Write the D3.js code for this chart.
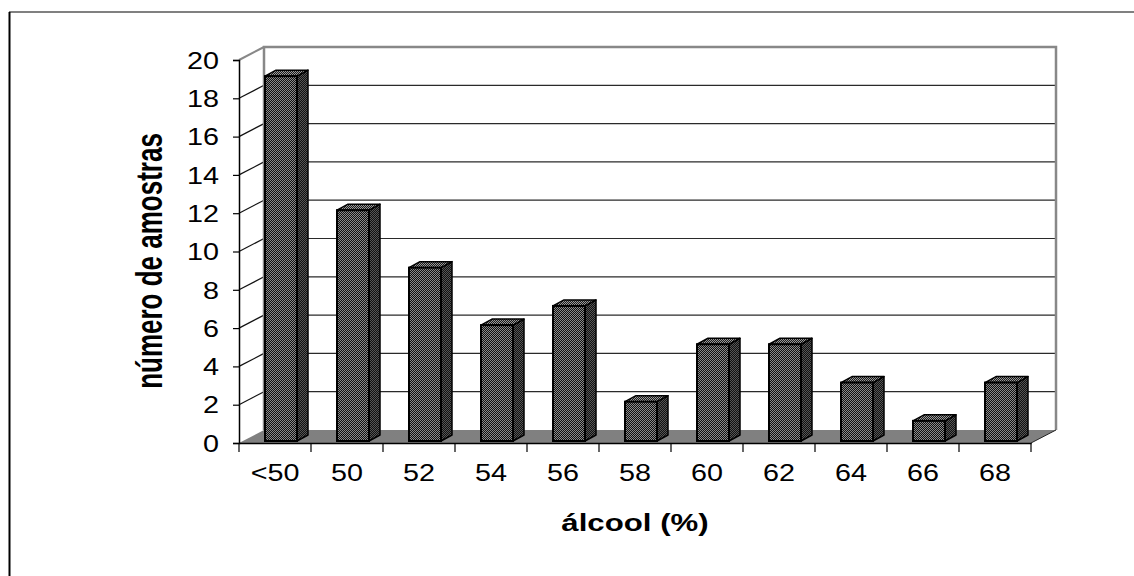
<!DOCTYPE html>
<html>
<head>
  <meta charset="utf-8">
  <title>álcool (%)</title>
  <script src="https://d3js.org/d3.v7.min.js"></script>
  <style>
    body { margin: 0; background: #fff; }
    text { font-family: "Liberation Sans", Arial, sans-serif; fill: #000; }
  </style>
</head>
<body>
  <script>
    var categories = ["<50", "50", "52", "54", "56", "58", "60", "62", "64", "66", "68"];
    var counts = [19, 12, 9, 6, 7, 2, 5, 5, 3, 1, 3];
    var yTicks = [0, 2, 4, 6, 8, 10, 12, 14, 16, 18, 20];

    var W = 1134, H = 576;
    // depth of the 3d box (back wall offset)
    var DX = 25, DY = -13;
    // bar placement inside the depth
    var bx0 = 6, by0 = -3, bdx = 11, bdy = -6;
    // the original picture is stretched sideways
    var SX = 1.25;

    var x = d3.scaleBand()
        .domain(categories)
        .range([239, 1031])
        .paddingInner(0);

    var y = d3.scaleLinear()
        .domain([0, 20])
        .range([443, 60]);

    var svg = d3.select("body").append("svg")
        .attr("width", W)
        .attr("height", H);

    // dithered fills like the original
    var defs = svg.append("defs");
    function dither(id, light, bg) {
      var p = defs.append("pattern")
          .attr("id", id)
          .attr("width", 2).attr("height", 2)
          .attr("patternUnits", "userSpaceOnUse");
      p.append("rect").attr("width", 2).attr("height", 2).attr("fill", bg);
      p.append("rect").attr("width", 1).attr("height", 1).attr("fill", light);
      p.append("rect").attr("x", 1).attr("y", 1).attr("width", 1).attr("height", 1).attr("fill", light);
    }
    dither("front", "#8a8a8a", "#111");
    dither("side", "#555", "#111");
    dither("top", "#9a9a9a", "#1a1a1a");

    // outer frame (top and left only)
    svg.append("line").attr("x1", 9).attr("x2", W).attr("y1", 12).attr("y2", 12)
        .attr("stroke", "#808080").attr("stroke-width", 2);
    svg.append("line").attr("x1", 9.5).attr("x2", 9.5).attr("y1", 12).attr("y2", H)
        .attr("stroke", "#000").attr("stroke-width", 2);

    var x0 = x.range()[0], x1 = x.range()[1];

    // floor
    svg.append("polygon")
        .attr("points", [[x0, y(0)], [x1, y(0)], [x1 + DX, y(0) + DY], [x0 + DX, y(0) + DY]].join(" "))
        .attr("fill", "#808080");

    // back wall gridlines
    svg.append("g").selectAll("line")
        .data(yTicks.filter(d => d > 0 && d < 20))
        .enter().append("line")
          .attr("x1", x0 + DX).attr("x2", x1 + DX)
          .attr("y1", d => y(d) + DY).attr("y2", d => y(d) + DY)
          .attr("stroke", "#2a2a2a").attr("stroke-width", 1.2);

    // side wall diagonals
    svg.append("g").selectAll("line")
        .data(yTicks.filter(d => d > 0))
        .enter().append("line")
          .attr("x1", x0).attr("x2", x0 + DX)
          .attr("y1", d => y(d)).attr("y2", d => y(d) + DY)
          .attr("stroke", d => d === 20 ? "#888" : "#111").attr("stroke-width", d => d === 20 ? 2 : 1.2);

    // back wall border
    svg.append("path")
        .attr("d", "M" + (x0 + DX) + "," + (y(0) + DY) + "V" + (y(20) + DY) + "H" + (x1 + DX) + "V" + (y(0) + DY))
        .attr("fill", "none").attr("stroke", "#888").attr("stroke-width", 2.5);

    // floor right edge
    svg.append("line")
        .attr("x1", x1).attr("y1", y(0)).attr("x2", x1 + DX).attr("y2", y(0) + DY)
        .attr("stroke", "#222").attr("stroke-width", 1);

    // bars
    var bw = 32;
    var bars = svg.append("g").selectAll("g")
        .data(categories.map((c, i) => ({cat: c, value: counts[i]})))
        .enter().append("g");

    function fx(d) { return x(d.cat) + (x.bandwidth() - bw) / 2 + bx0; }
    function barTop(d) { return y(d.value) + by0; }
    var base = y(0) + by0 + 1;

    bars.append("polygon")
        .attr("points", d => [[fx(d) + bw, barTop(d)], [fx(d) + bw + bdx, barTop(d) + bdy],
                              [fx(d) + bw + bdx, base + bdy], [fx(d) + bw, base]].join(" "))
        .attr("fill", "url(#side)").attr("stroke", "#000").attr("stroke-width", 1.5)
        .attr("stroke-linejoin", "round");

    bars.append("polygon")
        .attr("points", d => [[fx(d), barTop(d)], [fx(d) + bdx, barTop(d) + bdy],
                              [fx(d) + bw + bdx, barTop(d) + bdy], [fx(d) + bw, barTop(d)]].join(" "))
        .attr("fill", "url(#top)").attr("stroke", "#000").attr("stroke-width", 1.5)
        .attr("stroke-linejoin", "round");

    bars.append("rect")
        .attr("x", fx)
        .attr("y", barTop)
        .attr("width", bw)
        .attr("height", d => base - barTop(d))
        .attr("fill", "url(#front)").attr("stroke", "#000").attr("stroke-width", 2);

    // front axes
    var yAxis = d3.axisLeft(y).tickValues(yTicks).tickSize(6);
    var gy = svg.append("g")
        .attr("transform", "translate(" + x0 + ",0)")
        .call(yAxis)
        .attr("font-size", 23).attr("font-family", null);
    gy.select(".domain").attr("stroke", "#000").attr("stroke-width", 1.5);
    gy.selectAll(".tick line").attr("stroke", "#000").attr("stroke-width", 1.2);
    gy.selectAll(".tick text")
        .attr("x", null).attr("dy", "0.36em")
        .attr("transform", "translate(-20,0) scale(" + SX + ",1)");

    var xAxis = d3.axisBottom(x).tickSize(0).tickPadding(22);
    var gx = svg.append("g")
        .attr("transform", "translate(0," + y(0) + ")")
        .call(xAxis)
        .attr("font-size", 23).attr("font-family", null);
    gx.select(".domain").attr("stroke", "#000").attr("stroke-width", 1.5);
    gx.selectAll(".tick text")
        .attr("transform", "scale(" + SX + ",1)");
    // boundary ticks between categories
    gx.append("g").selectAll("line")
        .data(categories.concat(["end"]))
        .enter().append("line")
          .attr("x1", (d, i) => i < categories.length ? x(d) : x1)
          .attr("x2", (d, i) => i < categories.length ? x(d) : x1)
          .attr("y1", 0).attr("y2", 9)
          .attr("stroke", "#000").attr("stroke-width", 1.2);

    // axis titles
    svg.append("text")
        .attr("transform", "translate(635,531) scale(1.3,1)")
        .attr("text-anchor", "middle")
        .attr("font-size", 24).attr("font-weight", "bold")
        .text("álcool (%)");

    svg.append("text")
        .attr("transform", "translate(162,261) rotate(-90) scale(1,1.4)")
        .attr("text-anchor", "middle")
        .attr("font-size", 26).attr("font-weight", "bold")
        .text("número de amostras");
  </script>
</body>
</html>
